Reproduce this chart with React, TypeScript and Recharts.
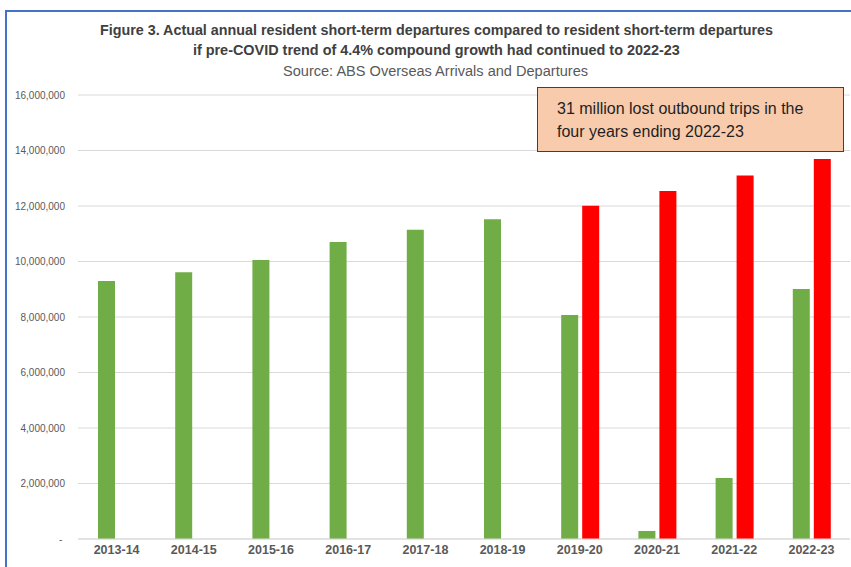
import React from 'react';
import { BarChart, Bar, XAxis, YAxis, CartesianGrid } from 'recharts';

const years = ['2013-14', '2014-15', '2015-16', '2016-17', '2017-18', '2018-19', '2019-20', '2020-21', '2021-22', '2022-23'];
// actual resident short-term departures
const actual = [9300000, 9610000, 10050000, 10700000, 11140000, 11520000, 8070000, 290000, 2200000, 9010000];
// pre-COVID trend (4.4% compound growth)
const trend = [null, null, null, null, null, null, 12010000, 12540000, 13100000, 13690000];
const yTicks = [0, 2000000, 4000000, 6000000, 8000000, 10000000, 12000000, 14000000, 16000000];

const data = years.map((y, i) => ({ year: y, actual: actual[i], trend: trend[i] }));

const FONT = '"Liberation Sans", Arial, sans-serif';

const fmtY = (v: number) => (v === 0 ? '-\u00a0' : v.toLocaleString('en-US'));

export default function App() {
  return (
    <div style={{ position: 'absolute', left: 0, top: 0, width: 851, height: 567, background: '#fff', fontFamily: FONT, overflow: 'hidden' }}>
      {/* outer frame */}
      <div style={{ position: 'absolute', left: 5, top: 10, width: 860, height: 570, borderLeft: '2px solid #4472C4', borderTop: '2px solid #4472C4' }} />

      <BarChart
        width={851}
        height={567}
        data={data}
        margin={{ top: 95, right: 1, left: 0, bottom: 0 }}
        barSize={17}
        barGap={4}
        style={{ position: 'absolute', left: 0, top: 0 }}
      >
        <CartesianGrid vertical={false} stroke="#d9d9d9" />
        <XAxis
          dataKey="year"
          height={28}
          axisLine={{ stroke: '#d9d9d9' }}
          tickLine={false}
          tickMargin={0}
          tick={{ fill: '#595959', fontSize: 12.5, fontWeight: 'bold', fontFamily: FONT }}
          interval={0}
        />
        <YAxis
          width={78}
          domain={[0, 16000000]}
          ticks={yTicks}
          tickFormatter={fmtY}
          axisLine={false}
          tickLine={false}
          tickMargin={7}
          tick={{ fill: '#595959', fontSize: 10, fontFamily: FONT }}
          interval={0}
        />
        <Bar dataKey="actual" fill="#70AD47" isAnimationActive={false} />
        <Bar dataKey="trend" fill="#FF0000" isAnimationActive={false} />
      </BarChart>

      {/* title */}
      <svg width={851} height={90} style={{ position: 'absolute', left: 0, top: 0, pointerEvents: 'none' }}>
        <text x={436.5} y={35} textAnchor="middle" fontSize={14} fontWeight="bold" fill="#404040" fontFamily={FONT} textLength={673} lengthAdjust="spacingAndGlyphs">
          Figure 3. Actual annual resident short-term departures compared to resident short-term departures
        </text>
        <text x={436.4} y={55} textAnchor="middle" fontSize={14} fontWeight="bold" fill="#404040" fontFamily={FONT} textLength={487} lengthAdjust="spacingAndGlyphs">
          if pre-COVID trend of 4.4% compound growth had continued to 2022-23
        </text>
        <text x={435.5} y={76} textAnchor="middle" fontSize={14} fill="#595959" fontFamily={FONT} textLength={305} lengthAdjust="spacingAndGlyphs">
          Source: ABS Overseas Arrivals and Departures
        </text>
      </svg>

      {/* annotation */}
      <div
        style={{
          position: 'absolute',
          left: 537,
          top: 87,
          width: 307,
          height: 65,
          boxSizing: 'border-box',
          background: '#F8CBAD',
          border: '1px solid #404040',
          padding: '10px 0 0 19px',
          fontSize: 16,
          lineHeight: '22.5px',
          color: '#1f1f1f',
          fontFamily: FONT,
        }}
      >
        31 million lost outbound trips in the
        <br />
        four years ending 2022-23
      </div>
    </div>
  );
}
